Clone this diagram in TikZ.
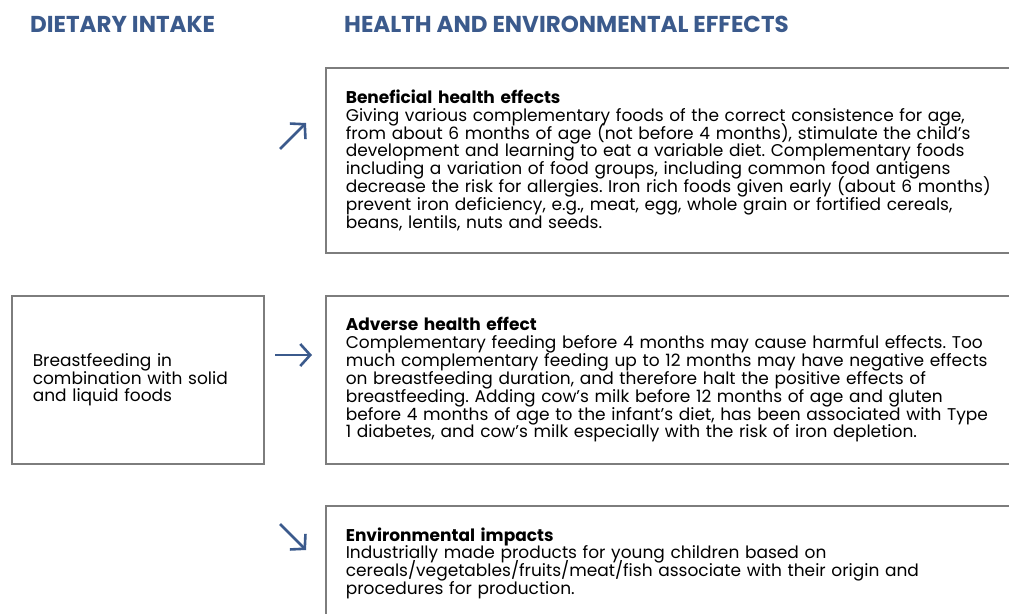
\documentclass[tikz,border=0pt]{standalone}
\usepackage{fontspec}
\setmainfont{Poppins}
\frenchspacing
\usetikzlibrary{arrows.meta}
\definecolor{headblue}{RGB}{59,90,140}
\definecolor{boxgray}{RGB}{125,125,125}
\newcommand{\boxfont}{\fontsize{17}{17.9}\selectfont\lineskiplimit -20pt\relax\lineskip 0pt\relax}
\tikzset{
    head/.style={text=headblue,font=\bfseries\fontsize{23}{24}\selectfont,anchor=west,inner sep=0},
    box/.style={draw=boxgray,line width=1.6pt,anchor=north west,align=left,inner xsep=20pt,
        font=\boxfont},
    sign/.style={draw=headblue,line width=2.6pt,-{Straight Barb[length=10pt,width=22pt,line width=2.6pt]}}
}
\begin{document}
\begin{tikzpicture}[x=1pt,y=-1pt]
    \useasboundingbox (0,0) rectangle (1009,613);
    \clip (0,0) rectangle (1009,613);
    % headings
    \node[head] (intake) at (30,24) {DIETARY INTAKE};
    \node[head] (effects) at (344,24) {HEALTH AND ENVIRONMENTAL EFFECTS};
    % intake box
    \node[box,minimum width=252pt,minimum height=168pt,text width=210pt] (feeding) at (11,295)
        {Breastfeeding in\\ combination with solid\\ and liquid foods};
    % effect boxes
    \node[box,minimum width=705pt,minimum height=185pt,text width=665pt] (benefit) at (325,67)
        {\textbf{Beneficial health effects}\\
        Giving various complementary foods of the correct consistence for age,\\
        from about 6 months of age (not before 4 months), stimulate the child's\\
        development and learning to eat a variable diet. Complementary foods\\
        including a variation of food groups, including common food antigens\\
        decrease the risk for allergies. Iron rich foods given early (about 6 months)\\
        prevent iron deficiency, e.g., meat, egg, whole grain or fortified cereals,\\
        beans, lentils, nuts and seeds.};
    \node[box,minimum width=705pt,minimum height=168pt,text width=665pt] (adverse) at (325,295)
        {\textbf{Adverse health effect}\\
        Complementary feeding before 4 months may cause harmful effects. Too\\
        much complementary feeding up to 12 months may have negative effects\\
        on breastfeeding duration, and therefore halt the positive effects of\\
        breastfeeding. Adding cow's milk before 12 months of age and gluten\\
        before 4 months of age to the infant's diet, has been associated with Type\\
        1 diabetes, and cow's milk especially with the risk of iron depletion.};
    \node[box,minimum width=705pt,minimum height=115pt,text width=665pt] (environment) at (325,505)
        {\textbf{Environmental impacts}\\
        Industrially made products for young children based on\\
        cereals/vegetables/fruits/meat/fish associate with their origin and\\
        procedures for production.};
    % arrows
    \coordinate (up0) at (280,149);
    \coordinate (up1) at (306,123);
    \coordinate (mid0) at (275,355);
    \coordinate (mid1) at (312,355);
    \coordinate (down0) at (280,524);
    \coordinate (down1) at (306,550);
    \draw[sign] (up0) -- (up1);
    \draw[sign] (mid0) -- (mid1);
    \draw[sign] (down0) -- (down1);
\end{tikzpicture}
\end{document}
